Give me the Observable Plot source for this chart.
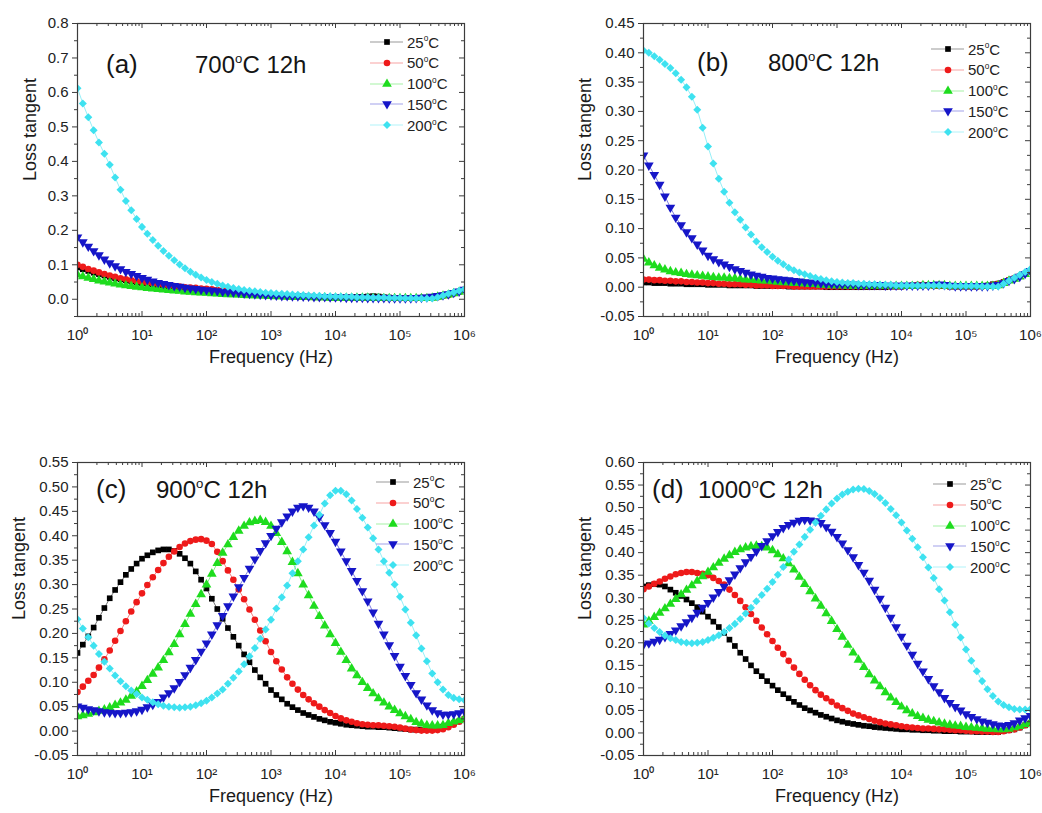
<!DOCTYPE html>
<html><head><meta charset="utf-8">
<script src="https://cdn.jsdelivr.net/npm/d3@7"></script>
<script src="https://cdn.jsdelivr.net/npm/@observablehq/plot@0.6"></script>
<style>
body{margin:0;background:#fff;font-family:"Liberation Sans",Arial,sans-serif;}
#wrap{position:relative;width:1042px;height:813px;overflow:hidden;background:#fff;}
.panel{position:absolute;}
.lab{position:absolute;font-size:24px;color:#151515;white-space:nowrap;line-height:24px;}
.lab.tag{font-size:26px;}
.lab sup,.leg sup{font-size:0.55em;vertical-align:0;position:relative;top:-0.75em;line-height:0;}
.legrow{position:absolute;height:18px;display:flex;align-items:center;font-size:15px;color:#222;white-space:nowrap;}
.legrow svg{margin-right:3px;}
</style></head><body><div id="wrap"></div>
<script>
// ---------- data ----------
const freq=[1,1.21,1.47,1.78,2.15,2.61,3.16,3.83,4.64,5.62,6.81,8.25,
10,12.1,14.7,17.8,21.5,26.1,31.6,38.3,46.4,56.2,68.1,82.5,
100,121,147,178,215,261,316,383,464,562,681,825,
1000,1210,1470,1780,2150,2610,3160,3830,4640,5620,6810,8250,
10000,12100,14700,17800,21500,26100,31600,38300,46400,56200,68100,82500,
100000,121000,147000,178000,215000,261000,316000,383000,464000,562000,681000,825000,
1000000];
const series=["25°C","50°C","100°C","150°C","200°C"];
const colors=["#000000","#ee1a1a","#1edc1e","#1616c8","#3ee2f0"];
const xMajor=[1,10,100,1000,10000,100000,1000000];
const yTicksA=[0,0.1,0.2,0.3,0.4,0.5,0.6,0.7,0.8];
const yTicksB=[-0.05,0,0.05,0.1,0.15,0.2,0.25,0.3,0.35,0.4,0.45];
const yTicksC=[-0.05,0,0.05,0.1,0.15,0.2,0.25,0.3,0.35,0.4,0.45,0.5,0.55];
const yTicksD=[-0.05,0,0.05,0.1,0.15,0.2,0.25,0.3,0.35,0.4,0.45,0.5,0.55,0.6];
const titles=["700°C 12h","800°C 12h","900°C 12h","1000°C 12h"];
const tags=["(a)","(b)","(c)","(d)"];

// (a) 700°C 12h
const a25=[0.092,0.087,0.082,0.077,0.073,0.069,0.065,0.061,0.058,0.055,0.052,0.049,
0.047,0.045,0.043,0.041,0.040,0.038,0.036,0.035,0.033,0.032,0.030,0.029,
0.028,0.027,0.025,0.024,0.023,0.022,0.020,0.018,0.017,0.015,0.014,0.013,
0.012,0.011,0.010,0.010,0.009,0.008,0.008,0.007,0.007,0.006,0.006,0.006,
0.006,0.006,0.006,0.006,0.007,0.007,0.008,0.009,0.008,0.006,0.005,0.004,
0.004,0.004,0.004,0.004,0.004,0.004,0.005,0.008,0.011,0.014,0.018,0.022,
0.027];
const a50=[0.100,0.094,0.088,0.083,0.078,0.073,0.069,0.065,0.061,0.058,0.055,0.052,
0.050,0.048,0.046,0.044,0.042,0.040,0.038,0.037,0.035,0.034,0.033,0.031,
0.030,0.029,0.027,0.026,0.025,0.024,0.022,0.020,0.018,0.016,0.014,0.013,
0.012,0.011,0.010,0.009,0.008,0.008,0.007,0.007,0.006,0.006,0.006,0.005,
0.005,0.005,0.005,0.004,0.004,0.004,0.004,0.004,0.004,0.003,0.003,0.003,
0.003,0.003,0.003,0.003,0.004,0.004,0.004,0.006,0.010,0.012,0.017,0.022,
0.028];
const a100=[0.071,0.066,0.062,0.058,0.054,0.051,0.048,0.045,0.042,0.040,0.038,0.036,
0.034,0.032,0.031,0.029,0.028,0.026,0.025,0.024,0.022,0.021,0.020,0.019,
0.018,0.017,0.016,0.015,0.014,0.014,0.013,0.012,0.011,0.011,0.010,0.010,
0.009,0.008,0.008,0.007,0.007,0.006,0.006,0.006,0.005,0.005,0.005,0.004,
0.004,0.004,0.004,0.004,0.004,0.004,0.004,0.003,0.003,0.003,0.003,0.003,
0.003,0.003,0.003,0.003,0.003,0.003,0.004,0.007,0.010,0.013,0.017,0.021,
0.026];
const a150=[0.180,0.166,0.153,0.140,0.128,0.116,0.105,0.096,0.088,0.080,0.074,0.068,
0.062,0.057,0.052,0.048,0.045,0.042,0.039,0.037,0.034,0.032,0.030,0.028,
0.027,0.025,0.024,0.022,0.021,0.020,0.019,0.017,0.016,0.015,0.014,0.013,
0.012,0.011,0.010,0.010,0.009,0.009,0.008,0.008,0.007,0.007,0.007,0.006,
0.006,0.006,0.005,0.005,0.005,0.005,0.004,0.004,0.004,0.004,0.003,0.003,
0.003,0.003,0.003,0.004,0.005,0.006,0.008,0.010,0.012,0.015,0.019,0.023,
0.028];
const a200=[0.612,0.568,0.528,0.490,0.455,0.422,0.390,0.353,0.318,0.285,0.258,0.233,
0.210,0.190,0.172,0.155,0.140,0.126,0.113,0.101,0.090,0.080,0.071,0.063,
0.056,0.050,0.045,0.040,0.036,0.033,0.030,0.027,0.025,0.023,0.021,0.019,
0.018,0.017,0.016,0.015,0.014,0.013,0.012,0.011,0.011,0.010,0.009,0.009,
0.008,0.008,0.007,0.007,0.006,0.006,0.006,0.005,0.005,0.005,0.004,0.004,
0.004,0.003,0.003,0.003,0.002,0.002,0.002,0.006,0.011,0.016,0.020,0.025,
0.030];

// (b) 800°C 12h
const b25=[0.008,0.008,0.007,0.007,0.007,0.006,0.006,0.006,0.005,0.005,0.005,0.005,
0.004,0.004,0.004,0.004,0.003,0.003,0.003,0.003,0.003,0.002,0.002,0.002,
0.002,0.002,0.002,0.001,0.001,0.001,0.001,0.001,0.001,0.001,0.000,0.000,
0.000,0.000,0.000,0.000,0.000,0.000,0.000,0.000,0.000,0.000,0.001,0.001,
0.001,0.002,0.003,0.004,0.004,0.004,0.003,0.002,0.002,0.001,0.001,0.001,
0.001,0.001,0.001,0.002,0.003,0.005,0.006,0.009,0.012,0.015,0.019,0.023,
0.027];
const b50=[0.013,0.013,0.012,0.012,0.011,0.011,0.010,0.010,0.009,0.009,0.008,0.008,
0.007,0.007,0.006,0.006,0.005,0.005,0.005,0.004,0.004,0.003,0.003,0.003,
0.002,0.002,0.002,0.002,0.001,0.001,0.001,0.001,0.001,0.001,0.001,0.001,
0.001,0.001,0.001,0.001,0.001,0.001,0.001,0.001,0.001,0.001,0.001,0.001,
0.001,0.002,0.003,0.004,0.004,0.003,0.002,0.002,0.002,0.001,0.001,0.001,
0.001,0.001,0.001,0.001,0.002,0.004,0.006,0.009,0.012,0.015,0.019,0.023,
0.028];
const b100=[0.048,0.042,0.037,0.033,0.030,0.027,0.025,0.024,0.022,0.021,0.020,0.019,
0.018,0.017,0.016,0.016,0.015,0.015,0.014,0.013,0.013,0.012,0.011,0.011,
0.010,0.009,0.008,0.008,0.007,0.007,0.006,0.005,0.005,0.004,0.004,0.003,
0.003,0.003,0.002,0.002,0.002,0.002,0.002,0.002,0.002,0.002,0.002,0.002,
0.002,0.002,0.002,0.002,0.003,0.003,0.003,0.003,0.003,0.002,0.002,0.002,
0.002,0.002,0.002,0.002,0.002,0.002,0.003,0.007,0.011,0.014,0.018,0.022,
0.027];
const b150=[0.225,0.208,0.192,0.175,0.155,0.136,0.119,0.106,0.094,0.084,0.073,0.063,
0.054,0.048,0.043,0.039,0.035,0.031,0.028,0.025,0.022,0.020,0.018,0.016,
0.015,0.014,0.013,0.012,0.011,0.010,0.009,0.008,0.008,0.007,0.006,0.006,
0.005,0.005,0.005,0.005,0.004,0.004,0.004,0.004,0.004,0.003,0.003,0.003,
0.003,0.003,0.003,0.003,0.003,0.003,0.004,0.005,0.004,0.003,0.002,0.002,
0.002,0.002,0.002,0.002,0.002,0.003,0.004,0.007,0.011,0.014,0.018,0.023,
0.028];
const b200=[0.404,0.400,0.394,0.388,0.381,0.374,0.365,0.354,0.341,0.325,0.303,0.272,
0.240,0.211,0.185,0.163,0.144,0.128,0.115,0.102,0.090,0.078,0.068,0.060,
0.052,0.045,0.039,0.033,0.029,0.025,0.022,0.019,0.016,0.014,0.012,0.010,
0.009,0.008,0.007,0.007,0.006,0.006,0.005,0.005,0.004,0.004,0.004,0.003,
0.003,0.003,0.003,0.003,0.003,0.003,0.003,0.003,0.002,0.002,0.002,0.002,
0.002,0.002,0.002,0.001,0.001,0.001,0.001,0.006,0.011,0.016,0.021,0.026,
0.031];

// (c) 900°C 12h
const c25=[0.160,0.177,0.194,0.212,0.232,0.252,0.272,0.289,0.305,0.320,0.332,0.343,
0.353,0.360,0.366,0.370,0.372,0.372,0.369,0.363,0.354,0.343,0.327,0.310,
0.292,0.271,0.250,0.230,0.211,0.193,0.175,0.157,0.141,0.125,0.110,0.097,
0.084,0.074,0.065,0.056,0.049,0.043,0.037,0.033,0.029,0.025,0.022,0.019,
0.017,0.015,0.013,0.012,0.011,0.010,0.009,0.009,0.008,0.008,0.007,0.006,
0.005,0.004,0.003,0.003,0.003,0.003,0.004,0.006,0.009,0.012,0.016,0.020,
0.025];
const c50=[0.080,0.091,0.103,0.115,0.130,0.147,0.165,0.185,0.205,0.225,0.245,0.264,
0.282,0.299,0.315,0.330,0.344,0.357,0.368,0.377,0.384,0.389,0.392,0.393,
0.390,0.383,0.367,0.348,0.329,0.310,0.290,0.270,0.249,0.228,0.206,0.184,
0.162,0.143,0.126,0.110,0.097,0.085,0.074,0.065,0.057,0.050,0.043,0.037,
0.031,0.026,0.022,0.019,0.016,0.014,0.013,0.012,0.012,0.011,0.010,0.009,
0.007,0.005,0.003,0.002,0.001,0.001,0.001,0.002,0.004,0.008,0.013,0.019,
0.025];
const c100=[0.030,0.032,0.035,0.038,0.041,0.044,0.048,0.053,0.058,0.064,0.072,0.081,
0.092,0.104,0.117,0.130,0.145,0.161,0.178,0.198,0.219,0.240,0.260,0.280,
0.300,0.322,0.344,0.365,0.382,0.397,0.410,0.420,0.427,0.430,0.432,0.428,
0.420,0.405,0.387,0.368,0.346,0.323,0.300,0.278,0.256,0.235,0.216,0.198,
0.180,0.162,0.145,0.128,0.114,0.100,0.088,0.077,0.067,0.058,0.050,0.043,
0.036,0.030,0.024,0.018,0.015,0.012,0.011,0.011,0.012,0.016,0.019,0.022,
0.026];
const c150=[0.051,0.048,0.045,0.043,0.041,0.039,0.038,0.037,0.037,0.038,0.039,0.041,
0.044,0.049,0.054,0.060,0.069,0.078,0.088,0.101,0.115,0.130,0.146,0.163,
0.180,0.198,0.217,0.236,0.256,0.276,0.295,0.314,0.333,0.352,0.369,0.385,
0.400,0.415,0.428,0.440,0.450,0.458,0.461,0.458,0.450,0.438,0.422,0.406,
0.388,0.368,0.348,0.328,0.308,0.287,0.266,0.243,0.220,0.198,0.176,0.154,
0.132,0.113,0.095,0.078,0.065,0.053,0.043,0.037,0.034,0.034,0.035,0.037,
0.040];
const c200=[0.229,0.210,0.192,0.175,0.158,0.142,0.128,0.114,0.102,0.092,0.083,0.076,
0.069,0.064,0.059,0.055,0.052,0.050,0.049,0.048,0.049,0.050,0.053,0.057,
0.062,0.069,0.077,0.085,0.097,0.109,0.122,0.137,0.153,0.170,0.189,0.208,
0.228,0.251,0.274,0.298,0.323,0.348,0.372,0.397,0.421,0.443,0.466,0.483,
0.492,0.492,0.485,0.472,0.455,0.437,0.417,0.395,0.372,0.348,0.324,0.300,
0.275,0.249,0.222,0.196,0.169,0.143,0.118,0.100,0.085,0.074,0.068,0.065,
0.063];

// (d) 1000°C 12h
const d25=[0.325,0.328,0.330,0.329,0.325,0.318,0.311,0.304,0.296,0.288,0.279,0.269,
0.258,0.247,0.235,0.222,0.207,0.193,0.178,0.164,0.150,0.137,0.126,0.115,
0.105,0.095,0.086,0.077,0.069,0.062,0.055,0.050,0.045,0.040,0.036,0.032,
0.028,0.025,0.022,0.020,0.018,0.016,0.015,0.013,0.012,0.011,0.010,0.009,
0.008,0.008,0.007,0.007,0.006,0.006,0.005,0.005,0.004,0.004,0.004,0.003,
0.003,0.003,0.002,0.002,0.002,0.002,0.002,0.004,0.006,0.008,0.012,0.017,
0.022];
const d50=[0.319,0.325,0.331,0.336,0.342,0.347,0.352,0.355,0.357,0.357,0.355,0.353,
0.350,0.344,0.337,0.329,0.318,0.306,0.293,0.279,0.264,0.249,0.234,0.219,
0.204,0.189,0.175,0.160,0.145,0.131,0.118,0.106,0.095,0.085,0.077,0.069,
0.061,0.055,0.049,0.043,0.039,0.035,0.031,0.027,0.024,0.021,0.019,0.017,
0.015,0.013,0.012,0.011,0.010,0.010,0.009,0.008,0.008,0.007,0.006,0.006,
0.005,0.004,0.004,0.003,0.003,0.002,0.002,0.004,0.006,0.008,0.012,0.017,
0.022];
const d100=[0.240,0.248,0.257,0.266,0.276,0.286,0.297,0.307,0.317,0.327,0.337,0.347,
0.357,0.367,0.377,0.386,0.394,0.401,0.407,0.411,0.414,0.415,0.414,0.411,
0.405,0.396,0.387,0.376,0.362,0.346,0.330,0.314,0.298,0.282,0.265,0.248,
0.230,0.213,0.195,0.178,0.162,0.146,0.130,0.116,0.103,0.090,0.078,0.068,
0.058,0.050,0.043,0.037,0.033,0.029,0.026,0.023,0.020,0.018,0.016,0.015,
0.013,0.012,0.011,0.010,0.009,0.009,0.008,0.008,0.009,0.012,0.015,0.019,
0.024];
const d150=[0.196,0.199,0.203,0.207,0.213,0.220,0.228,0.237,0.246,0.256,0.267,0.278,
0.289,0.301,0.313,0.325,0.339,0.352,0.366,0.379,0.391,0.403,0.415,0.426,
0.437,0.446,0.455,0.462,0.467,0.471,0.473,0.472,0.470,0.466,0.457,0.447,
0.435,0.421,0.406,0.390,0.373,0.356,0.338,0.318,0.298,0.278,0.256,0.235,
0.214,0.194,0.174,0.154,0.137,0.120,0.104,0.091,0.078,0.067,0.058,0.050,
0.042,0.036,0.031,0.026,0.023,0.020,0.017,0.016,0.018,0.022,0.028,0.033,
0.038];
const d200=[0.255,0.243,0.233,0.224,0.216,0.210,0.206,0.202,0.200,0.199,0.200,0.202,
0.206,0.211,0.217,0.224,0.233,0.242,0.253,0.265,0.278,0.292,0.306,0.320,
0.335,0.351,0.368,0.385,0.402,0.418,0.435,0.451,0.467,0.482,0.496,0.509,
0.520,0.529,0.535,0.540,0.542,0.541,0.537,0.530,0.521,0.510,0.497,0.483,
0.467,0.449,0.431,0.412,0.390,0.367,0.344,0.319,0.294,0.268,0.240,0.212,
0.185,0.160,0.137,0.115,0.097,0.082,0.070,0.062,0.057,0.053,0.052,0.052,
0.053];

// ---------- drawing ----------
const symbols=[
  {symbol:"square",r:3.2,rotate:0,d3s:d3.symbolSquare},
  {symbol:"circle",r:3.3,rotate:0,d3s:d3.symbolCircle},
  {symbol:"triangle",r:3.6,rotate:0,d3s:d3.symbolTriangle},
  {symbol:"triangle",r:3.6,rotate:180,d3s:d3.symbolTriangle},
  {symbol:"square",r:3.2,rotate:45,d3s:d3.symbolSquare}
];
const axisColor="#3c3c3c";
const supDigits=["\u2070","\u00B9","\u00B2","\u00B3","\u2074","\u2075","\u2076"];
const wrap=document.getElementById("wrap");

function degHTML(s){return s.replace("°","<sup>o</sup>");}

function makePanel(p){
  const W=p.w,H=400,pw=W-p.ml-p.mr,ph=H-p.mt-p.mb;
  const xMinor=d3.scaleLog().domain([1,1e6]).ticks().filter(v=>!xMajor.includes(v));
  const half=(p.yTicks[1]-p.yTicks[0])/2;
  const yMinor=d3.range(-0.05,p.yTop+1e-9,half).filter(v=>!p.yTicks.some(t=>Math.abs(t-v)<1e-9));
  const marks=[];
  p.vals.forEach((arr,i)=>{
    const rows=freq.map((f,k)=>({f,v:arr[k]}));
    marks.push(Plot.line(rows,{x:"f",y:"v",stroke:colors[i],strokeWidth:1,strokeOpacity:0.55,clip:true}));
    marks.push(Plot.dot(rows,{x:"f",y:"v",fill:colors[i],symbol:symbols[i].symbol,r:symbols[i].r,rotate:symbols[i].rotate,clip:true}));
  });
  marks.push(
    Plot.frame({stroke:axisColor,strokeWidth:1.2}),
    Plot.axisY({ticks:p.yTicks,tickSize:5,tickPadding:4,tickFormat:d=>d.toFixed(p.dec),label:null,stroke:axisColor,fontSize:15}),
    Plot.tickY(yMinor,{y:d=>d,dx:-3,insetRight:pw-3,stroke:axisColor}),
    Plot.tickY(p.yTicks,{y:d=>d,insetLeft:pw-5,stroke:axisColor}),
    Plot.tickY(yMinor,{y:d=>d,insetLeft:pw-3,stroke:axisColor}),
    Plot.tickX(xMajor,{x:d=>d,insetTop:ph-5,stroke:axisColor}),
    Plot.tickX(xMinor,{x:d=>d,insetTop:ph-3,stroke:axisColor}),
    Plot.tickX(xMajor,{x:d=>d,insetBottom:ph-5,stroke:axisColor}),
    Plot.tickX(xMinor,{x:d=>d,insetBottom:ph-3,stroke:axisColor}),
    Plot.axisX({ticks:xMajor,tickSize:0,tickPadding:13,tickFormat:d=>"10"+supDigits[Math.round(Math.log10(d))],label:null,fontSize:15}),
    Plot.text(["Loss tangent"],{text:d=>d,frameAnchor:"left",dx:p.ytdx,dy:11,rotate:-90,fontSize:18,fill:"#1a1a1a"}),
    Plot.text(["Frequency (Hz)"],{text:d=>d,frameAnchor:"bottom",dy:46,fontSize:18,fill:"#1a1a1a"})
  );
  const svg=Plot.plot({
    width:W,height:H,marginLeft:p.ml,marginRight:p.mr,marginTop:p.mt,marginBottom:p.mb,
    x:{type:"log",domain:[1,1e6]},
    y:{domain:[-0.05,p.yTop]},
    style:{fontFamily:"'Liberation Sans',Arial,sans-serif",fontSize:"15px",color:"#222",background:"transparent",overflow:"visible"},
    marks
  });
  const div=document.createElement("div");
  div.className="panel";
  div.style.left=p.left+"px";div.style.top=p.top+"px";
  div.appendChild(svg);
  wrap.appendChild(div);

  // panel tag and title
  const t1=document.createElement("div");t1.className="lab tag";
  t1.style.left=p.tagX+"px";t1.style.top=(p.tagY-13)+"px";t1.textContent=p.tag;wrap.appendChild(t1);
  const t2=document.createElement("div");t2.className="lab";
  t2.style.left=p.titleX+"px";t2.style.top=(p.tagY-12)+"px";t2.innerHTML=degHTML(p.title);wrap.appendChild(t2);

  // legend
  series.forEach((s,i)=>{
    const row=document.createElement("div");row.className="legrow leg";
    row.style.left=p.legX+"px";row.style.top=(p.legY+i*20.8-9)+"px";
    const g=d3.create("svg").attr("width",34).attr("height",18);
    g.append("line").attr("x1",0).attr("x2",33).attr("y1",9).attr("y2",9)
      .attr("stroke",colors[i]).attr("stroke-opacity",0.4).attr("stroke-width",1);
    const sz=Math.PI*symbols[i].r*symbols[i].r;
    g.append("path").attr("d",d3.symbol(symbols[i].d3s,sz)())
      .attr("transform",`translate(17,9) rotate(${symbols[i].rotate})`).attr("fill",colors[i]);
    row.appendChild(g.node());
    const sp=document.createElement("span");sp.innerHTML=degHTML(s);row.appendChild(sp);
    wrap.appendChild(row);
  });
}

const panels=[
  {vals:[a25,a50,a100,a150,a200],yTicks:yTicksA,yTop:0.8,dec:1,left:0,top:0,w:520,ml:77,mr:56,mt:23,mb:84,ytdx:-47,
   tag:tags[0],title:titles[0],tagX:106,titleX:195,tagY:65,legX:370,legY:42},
  {vals:[b25,b50,b100,b150,b200],yTicks:yTicksB,yTop:0.45,dec:2,left:520,top:0,w:522,ml:123,mr:12,mt:23,mb:84,ytdx:-58,
   tag:tags[1],title:titles[1],tagX:697,titleX:768,tagY:63,legX:931,legY:49},
  {vals:[c25,c50,c100,c150,c200],yTicks:yTicksC,yTop:0.55,dec:2,left:0,top:413,w:520,ml:77,mr:56,mt:49,mb:58,ytdx:-58,
   tag:tags[2],title:titles[2],tagX:96,titleX:156,tagY:490,legX:376,legY:482},
  {vals:[d25,d50,d100,d150,d200],yTicks:yTicksD,yTop:0.6,dec:2,left:520,top:413,w:522,ml:123,mr:12,mt:49,mb:58,ytdx:-58,
   tag:tags[3],title:titles[3],tagX:652,titleX:698,tagY:490,legX:933,legY:484}
];
panels.forEach(makePanel);
</script></body></html>
